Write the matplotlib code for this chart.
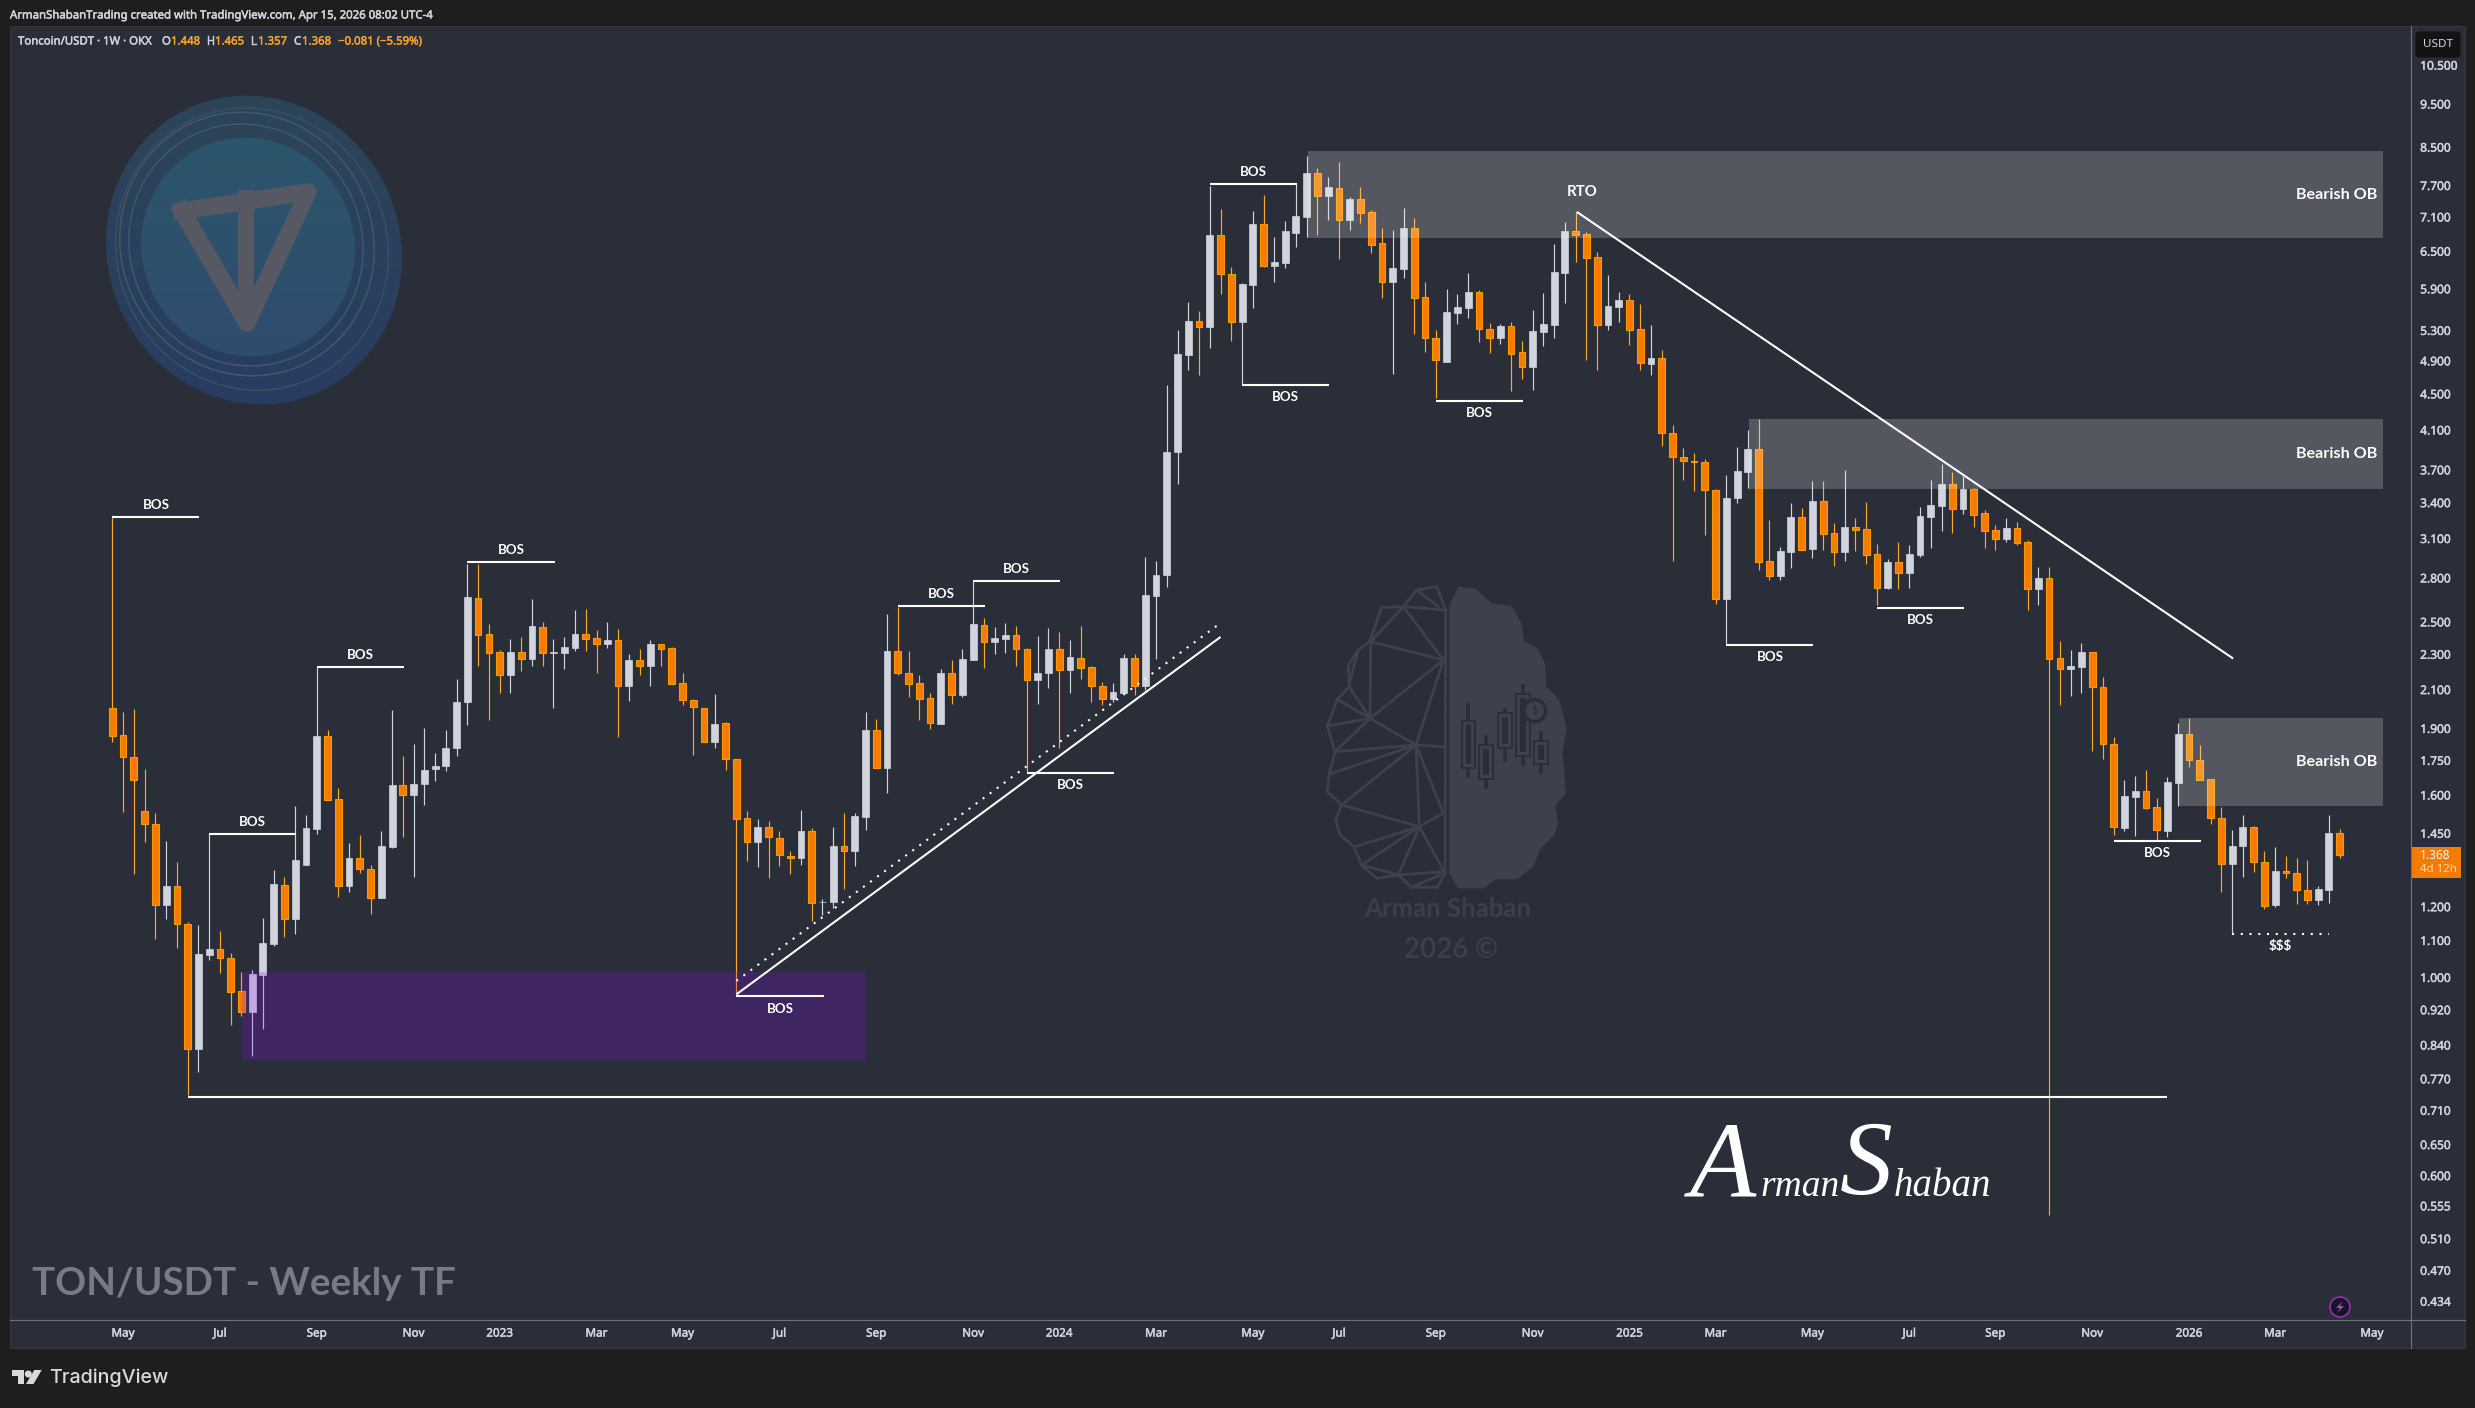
import matplotlib
matplotlib.use("Agg")
import matplotlib.pyplot as plt
import matplotlib.patheffects as pe
import numpy as np
from matplotlib.patches import Rectangle, Ellipse, Polygon, Circle, FancyBboxPatch

# ---------- weekly candles ----------
directions = ("DDDDDUDDUU" "DDDUUUDUUU" "DDUDDUUDUU" "UUUUDDDUDU" "DUUUDDUDUD" "UDDDDDUDDD" "UDDDUDUUDU"
              "UDUDDDDUDU" "UDUUDDUUDU" "DDDUUDUUUU" "UDUDDUUDUU" "UUDUDUDDDU" "UDDDUUUDDU" "DDUUUUDDDU"
              "UDDUDDDDDD" "UUUDDUUDUD" "DUDDDUDUUU" "UDUDDDUDDU" "DDUUDDDUUD" "DUUDDDDUUD" "DUDDDUUD")

highs = [3.273,1.981,1.996,1.710,1.526,1.421,1.344,1.151,1.142,1.450,
         1.127,1.063,1.013,1.018,1.164,1.316,1.295,1.555,1.518,2.223,
         1.891,1.628,1.414,1.442,1.333,1.455,1.992,1.768,1.823,1.899,
         1.779,1.891,2.155,2.898,2.898,2.483,2.324,2.388,2.401,2.648,
         2.496,2.388,2.401,2.576,2.581,2.447,2.496,2.452,2.297,2.326,
         2.383,2.361,2.339,2.189,2.047,2.002,2.075,1.930,1.754,1.534,
         1.503,1.496,1.455,1.385,1.539,1.468,1.223,1.473,1.526,1.526,
         1.981,1.944,2.549,2.598,2.317,2.178,2.079,2.212,2.264,2.329,
         2.776,2.522,2.465,2.491,2.470,2.334,2.409,2.457,2.434,2.383,
         2.470,2.226,2.139,2.135,2.297,2.300,2.950,2.923,4.600,5.301,
         5.696,5.566,7.683,7.236,6.234,5.981,7.198,7.500,6.733,7.015,
         7.730,8.304,8.048,7.864,8.168,7.464,7.656,7.217,6.890,6.856,
         7.254,7.070,5.997,5.301,5.889,5.815,6.138,5.875,5.396,5.382,
         5.409,5.153,5.580,5.829,6.613,6.997,7.186,6.820,6.477,6.107,
         5.845,5.815,5.667,5.368,5.034,4.150,3.912,3.862,3.803,3.521,
         3.650,3.918,4.097,4.213,3.247,3.028,3.392,3.348,3.589,3.589,
         3.222,3.692,3.264,3.401,3.052,2.937,3.068,3.044,3.357,3.598,
         3.750,3.673,3.636,3.525,3.331,3.205,3.264,3.230,3.084,2.877,
         2.877,2.378,2.323,2.365,2.309,2.167,1.857,1.662,1.680,1.706,
         1.587,1.674,1.925,1.950,1.819,1.666,1.551,1.462,1.519,1.477,
         1.385,1.399,1.367,1.360,1.353,1.265,1.519,1.465]

body_tops = [1.998,1.865,1.761,1.533,1.483,1.265,1.264,1.146,1.060,1.075,
             1.075,1.051,0.965,1.007,1.090,1.269,1.268,1.351,1.468,1.862,
             1.860,1.580,1.360,1.359,1.322,1.400,1.641,1.640,1.644,1.706,
             1.723,1.804,2.032,2.661,2.659,2.419,2.309,2.312,2.309,2.470,
             2.467,2.312,2.341,2.421,2.419,2.393,2.386,2.386,2.264,2.262,
             2.356,2.356,2.332,2.132,2.044,1.998,1.920,1.924,1.752,1.506,
             1.472,1.472,1.430,1.367,1.456,1.456,1.214,1.400,1.401,1.514,
             1.891,1.889,2.317,2.314,2.187,2.132,2.051,2.189,2.187,2.269,
             2.483,2.480,2.396,2.414,2.411,2.326,2.187,2.329,2.326,2.280,
             2.278,2.221,2.114,2.085,2.276,2.273,2.676,2.815,3.872,4.983,
             5.423,5.419,6.762,6.762,6.117,5.966,6.961,6.955,6.314,6.838,
             7.100,7.939,7.932,7.656,7.650,7.425,7.419,7.173,6.624,6.218,
             6.890,6.884,5.765,5.189,5.551,5.623,5.839,5.839,5.310,5.354,
             5.349,5.004,5.287,5.382,6.154,6.838,6.832,6.780,6.389,5.633,
             5.726,5.721,5.310,4.932,4.927,4.063,3.819,3.780,3.770,3.509,
             3.440,3.682,3.897,3.894,2.919,2.997,3.272,3.269,3.409,3.406,
             3.137,3.188,3.186,3.169,2.972,2.914,2.912,2.975,3.281,3.375,
             3.562,3.559,3.516,3.513,3.303,3.161,3.180,3.178,3.065,2.796,
             2.793,2.274,2.230,2.311,2.309,2.110,1.822,1.596,1.616,1.615,
             1.549,1.654,1.872,1.870,1.749,1.665,1.506,1.401,1.472,1.472,
             1.345,1.314,1.314,1.308,1.251,1.254,1.449,1.448]

body_bottoms = [1.863,1.761,1.660,1.483,1.203,1.205,1.146,0.831,0.831,1.059,
                1.050,0.962,0.914,0.914,1.006,1.089,1.161,1.161,1.334,1.465,
                1.576,1.264,1.264,1.322,1.224,1.224,1.396,1.600,1.600,1.643,
                1.708,1.721,1.802,2.030,2.416,2.307,2.180,2.180,2.271,2.271,
                2.302,2.307,2.307,2.336,2.391,2.356,2.356,2.119,2.119,2.226,
                2.226,2.326,2.130,2.044,2.004,1.834,1.834,1.752,1.504,1.415,
                1.415,1.433,1.369,1.358,1.358,1.209,1.212,1.213,1.384,1.384,
                1.512,1.715,1.715,2.187,2.126,2.049,1.922,1.920,2.066,2.068,
                2.264,2.373,2.371,2.388,2.326,2.148,2.148,2.187,2.203,2.203,
                2.219,2.114,2.049,2.047,2.079,2.119,2.119,2.670,2.817,3.866,
                4.974,5.345,5.345,6.128,5.414,5.414,5.956,6.255,6.255,6.298,
                6.809,7.088,7.490,7.490,7.039,7.039,7.167,6.601,6.002,6.002,
                6.202,5.760,5.184,4.898,4.882,5.537,5.613,5.310,5.184,5.193,
                4.987,4.811,4.811,5.274,5.368,6.138,6.768,6.384,5.373,5.368,
                5.623,5.305,4.861,4.857,4.060,3.816,3.777,3.767,3.506,2.648,
                2.646,3.436,3.673,2.917,2.813,2.813,2.992,3.008,3.013,3.134,
                2.992,2.992,3.167,2.970,2.728,2.725,2.835,2.833,2.967,3.272,
                3.366,3.343,3.340,3.292,3.159,3.094,3.092,3.060,2.721,2.718,
                2.272,2.209,2.209,2.224,2.109,1.825,1.470,1.469,1.591,1.544,
                1.459,1.458,1.649,1.747,1.663,1.505,1.337,1.337,1.400,1.345,
                1.200,1.203,1.306,1.251,1.218,1.218,1.250,1.368]

lows = [1.834,1.528,1.303,1.415,1.103,1.162,1.077,0.737,0.783,1.045,
        1.011,0.884,0.904,0.815,0.875,1.083,1.109,1.117,1.334,1.444,
        1.576,1.228,1.245,1.308,1.175,1.224,1.393,1.435,1.293,1.556,
        1.655,1.699,1.765,1.912,2.231,1.938,2.077,2.081,2.198,2.226,
        2.231,2.002,2.210,2.314,2.314,2.187,2.336,1.854,2.034,2.175,
        2.114,2.231,2.126,2.013,1.770,1.834,1.802,1.703,0.956,1.348,
        1.327,1.289,1.331,1.303,1.334,1.154,1.174,1.194,1.255,1.331,
        1.462,1.712,1.607,2.180,2.055,1.938,1.897,1.920,2.019,2.055,
        2.264,2.219,2.300,2.304,2.231,1.693,2.019,2.105,1.802,2.081,
        2.157,2.030,2.013,2.032,2.073,2.066,2.094,2.271,2.731,3.560,
        4.774,4.720,5.060,5.819,5.144,4.600,5.613,6.234,5.997,6.218,
        6.561,6.727,6.768,7.033,6.367,6.856,6.979,6.466,5.755,4.733,
        6.059,5.247,5.008,4.450,4.882,5.382,5.465,5.140,4.995,5.113,
        4.522,4.672,4.542,5.087,5.193,5.682,6.314,4.906,4.782,5.301,
        5.409,5.100,4.782,4.720,3.926,2.920,3.603,3.503,3.127,2.612,
        2.357,3.395,3.525,2.855,2.782,2.782,2.869,3.008,2.944,3.005,
        2.884,2.922,2.997,2.899,2.609,2.718,2.718,2.725,2.952,3.020,
        3.156,3.140,3.297,3.188,3.020,3.005,3.068,3.044,2.575,2.609,
        0.541,2.017,2.064,2.080,1.791,1.755,1.443,1.458,1.439,1.540,
        1.425,1.436,1.555,1.719,1.663,1.484,1.246,1.118,1.293,1.310,
        1.190,1.197,1.290,1.206,1.206,1.203,1.211,1.357]

# ---------- axis labels ----------
price_ticks = [10.5,9.5,8.5,7.7,7.1,6.5,5.9,5.3,4.9,4.5,4.1,3.7,3.4,3.1,2.8,2.5,2.3,2.1,1.9,1.75,1.6,1.45,
               1.2,1.1,1.0,0.92,0.84,0.77,0.71,0.65,0.6,0.555,0.51,0.47,0.434]
month_ticks = [1,10,19,28,36,45,53,62,71,80,88,97,106,114,123,132,141,149,158,167,175,184,193,201,210]
month_labels = ["May","Jul","Sep","Nov","2023","Mar","May","Jul","Sep","Nov","2024","Mar","May","Jul","Sep",
                "Nov","2025","Mar","May","Jul","Sep","Nov","2026","Mar","May"]

# ---------- analyst drawings (candle index, price) ----------
bos_start = [0,9,19,33,58,73,80,85,102,105,123,150,164,186]
bos_price = [3.273,1.445,2.223,2.915,0.951,2.602,2.775,1.692,7.722,4.596,4.410,2.352,2.587,1.420]
bos_above = [1,1,1,1,0,1,1,0,1,0,0,0,0,0]
ob_start = [111.1,152.1,192.1]
ob_top = [8.40,4.21,1.949]
ob_bottom = [6.72,3.518,1.554]
ob_right = 211.0
zone_x = [12.1,70.0]
zone_y = [0.808,1.013]
base_x = [7,191]
base_price = 0.734
up_solid_x, up_solid_y = [58,103.0], [0.956,2.402]
up_dotted_x, up_dotted_y = [58,103.0], [0.990,2.49]
down_x, down_y = [136.1,197.1], [7.185,2.272]
liq_x, liq_price = [197,206], 1.117

W, H = 2475, 1408
BG, OUT = "#2a2e39", "#1e1e1e"
UP, DOWN, DOWN_EDGE, DOWN_WICK = "#d1d4dc", "#f57c00", "#ff9800", "#ffa726"
TEXT = "#d1d4dc"
FONT = ["Noto Sans", "DejaVu Sans"]
ANNO = ["Lato", "DejaVu Sans"]
plt.rcParams["font.family"] = FONT

fig = plt.figure(figsize=(W/100, H/100), dpi=100, facecolor=OUT)
fig.add_artist(Rectangle((10/W, 1-1348/H), 2455/W, 1322/H, transform=fig.transFigure, fc=BG, ec="#34373f", lw=0.8, zorder=0))

def overlay(z):
    a = fig.add_axes([0, 0, 1, 1], zorder=z)
    a.set_xlim(0, W); a.set_ylim(H, 0); a.axis("off"); a.patch.set_alpha(0)
    return a

under = overlay(1)
top = overlay(5)

# ---------- main price chart ----------
L, R, T, B = 10, 2411, 26, 1320
ax = fig.add_axes([L/W, 1-B/H, (R-L)/W, (B-T)/H], zorder=3)
ax.patch.set_alpha(0)
ax.set_yscale("log")
ax.set_ylim(0.413, 11.60)
ax.set_xlim(-9.507, 213.63)

idx = np.arange(len(highs))
is_up = np.array([c == "U" for c in directions])
highs_a, lows_a = np.array(highs), np.array(lows)
tops_a, bots_a = np.array(body_tops), np.array(body_bottoms)
ax.vlines(idx[is_up], lows_a[is_up], highs_a[is_up], color=UP, lw=0.85, zorder=2)
ax.vlines(idx[~is_up], lows_a[~is_up], highs_a[~is_up], color=DOWN_WICK, lw=0.85, zorder=2)
ax.bar(idx[is_up], tops_a[is_up]-bots_a[is_up], bottom=bots_a[is_up], width=0.64, color=UP, edgecolor=UP, lw=0.5, zorder=3)
ax.bar(idx[~is_up], tops_a[~is_up]-bots_a[~is_up], bottom=bots_a[~is_up], width=0.62, color=DOWN, edgecolor=DOWN_EDGE, lw=0.8, zorder=3)

thick = [pe.withStroke(linewidth=0.35, foreground=TEXT)]
ax.set_yticks(price_ticks, [f"{p:.3f}" for p in price_ticks])
ax.yaxis.set_minor_locator(matplotlib.ticker.NullLocator())
ax.yaxis.tick_right()
ax.tick_params(axis="y", length=0, pad=6.6, labelsize=8.6, labelcolor=TEXT)
ax.set_xticks(month_ticks, month_labels)
ax.tick_params(axis="x", length=0, pad=6.2, labelsize=8.4, labelcolor=TEXT)
for lab in ax.get_xticklabels() + ax.get_yticklabels():
    lab.set_path_effects(thick)
for s in ax.spines.values():
    s.set_visible(False)

# zones over the candles
for s, t, b in zip(ob_start, ob_top, ob_bottom):
    ax.add_patch(Rectangle((s, b), ob_right-s, t-b, fc="#ffffff", alpha=0.2, lw=0, zorder=4))
    ax.text(210.5, np.sqrt(t*b), "Bearish OB", ha="right", va="center", color="white", fontsize=11.6, fontweight="bold", family=ANNO, zorder=6)
ax.add_patch(Rectangle((zone_x[0], zone_y[0]), zone_x[1]-zone_x[0], zone_y[1]-zone_y[0], fc="#8e06fc", alpha=0.21, lw=0, zorder=4))

# lines
line = dict(color="white", solid_capstyle="butt", zorder=5)
for s, p, a in zip(bos_start, bos_price, bos_above):
    ax.plot([s, s+8.1], [p, p], lw=1.5, **line)
    ax.annotate("BOS", (s+4.05, p), xytext=(0, 8.8 if a else -8.8), textcoords="offset points",
                ha="center", va="center", color="white", fontsize=9.6, fontweight="bold", family=ANNO, zorder=6)
ax.plot(base_x, [base_price, base_price], lw=1.5, **line)
ax.plot(up_solid_x, up_solid_y, lw=1.5, **line)
ax.plot(up_dotted_x, up_dotted_y, lw=1.5, color="white", ls=(0, (1, 3.2)), zorder=5)
ax.plot(down_x, down_y, lw=1.5, **line)
ax.plot(liq_x, [liq_price, liq_price], lw=1.5, color="white", ls=(0, (1, 3.2)), zorder=5)
ax.annotate("$$$", (sum(liq_x)/2, liq_price), xytext=(0, -8.8), textcoords="offset points", ha="center", va="center",
            color="white", fontsize=9.6, fontweight="bold", family=ANNO, parse_math=False, zorder=6)
ax.annotate("RTO", (136.6, down_y[0]), xytext=(0, 14.5), textcoords="offset points", ha="center", va="center",
            color="white", fontsize=10.8, fontweight="bold", family=ANNO, zorder=6)

# ---------- coin logo ----------
grad = np.linspace(0, 1, 256)[:, None]
cmap = matplotlib.colors.LinearSegmentedColormap.from_list("c", ["#2a566b", "#314c6e"])
cmap2 = matplotlib.colors.LinearSegmentedColormap.from_list("c", ["#2d4557", "#283c62"])
outer = Ellipse((254, 250), 292, 312, angle=-25, fc="#2c4458", ec="none")
under.add_patch(outer)
im = under.imshow(grad, extent=(100, 410, 410, 90), cmap=cmap2, aspect="auto", zorder=1.2)
im.set_clip_path(outer)
for (cx, cy, w, h, c) in [(252, 249, 270, 285, "#3a4f63"), (247, 244, 252, 266, "#46566a"), (246, 245, 232, 244, "#3a5a70")]:
    under.add_patch(Ellipse((cx, cy), w, h, angle=-25, fc="none", ec=c, lw=1.1, zorder=1.3))
disc = Ellipse((248, 247), 212, 220, angle=-25, fc="#2e5068", ec="none", zorder=1.4)
under.add_patch(disc)
im2 = under.imshow(grad, extent=(130, 365, 360, 130), cmap=cmap, aspect="auto", zorder=1.5)
im2.set_clip_path(disc)
under.plot([182, 308, 247, 182], [211, 192, 323, 211], color="#565963", lw=12.5, solid_joinstyle="round", zorder=1.7)
under.plot([245.5, 245.5], [198, 297], color="#565963", lw=11.5, zorder=1.7)
under.set_xlim(0, W); under.set_ylim(H, 0)

# ---------- brain watermark ----------
BR = "#3e414d"
def bp(x, y):
    return 1280 + x/3, 560 + y/3
right_half = [(535,80),(585,85),(635,130),(695,138),(725,190),(732,243),(772,265),(795,308),(798,378),(838,420),(860,505),
              (848,575),(857,700),(826,738),(834,790),(823,825),(782,865),(760,920),(712,958),(648,958),(610,985),(535,985),
              (508,940),(508,135)]
under.add_patch(Polygon([bp(*p) for p in right_half], fc=BR, ec="none", zorder=2))
outline = [(497,150),(470,80),(410,90),(370,140),(305,143),(268,245),(235,270),(205,315),(208,380),(172,418),(142,498),(165,575),
           (148,640),(142,695),(185,735),(167,780),(180,825),(222,860),(245,915),(290,955),(355,945),(395,982),(472,982),(495,940),(497,150)]
xs, ys = zip(*[bp(*p) for p in outline])
under.plot(xs, ys, color=BR, lw=2.0, zorder=2)
segs = [((370,140),(497,150)),((410,90),(475,140)),((370,140),(272,245)),((370,140),(490,300)),((272,245),(490,300)),
        ((272,245),(270,475)),((208,380),(270,475)),((172,418),(270,475)),((142,498),(270,475)),((165,575),(270,475)),
        ((270,475),(490,300)),((270,475),(408,555)),((408,555),(490,300)),((165,575),(408,555)),((155,640),(408,555)),
        ((185,735),(408,555)),((408,555),(490,560)),((408,555),(418,800)),((408,555),(490,760)),((185,735),(418,800)),
        ((225,860),(418,800)),((245,915),(418,800)),((355,945),(418,800)),((418,800),(490,760)),((418,800),(490,930)),
        ((245,915),(355,945)),((355,945),(490,935)),((395,982),(480,945)),((305,143),(275,230)),((235,270),(208,370))]
for a, b in segs:
    pa, pb = bp(*a), bp(*b)
    under.plot([pa[0], pb[0]], [pa[1], pb[1]], color=BR, lw=2.0, zorder=2)
for (x0, y0, x1, y1, wt, wb) in [(545,483,585,625,435,648),(598,555,640,657,532,680),(653,460,695,565,450,600),
                                 (707,402,749,588,378,612),(762,543,804,612,520,635)]:
    xc = (x0+x1)/2
    p1, p2 = bp(xc, wt), bp(xc, wb)
    under.plot([p1[0], p2[0]], [p1[1], p2[1]], color=BG, lw=2.6, zorder=2.1)
    q0, q1 = bp(x0, y0), bp(x1, y1)
    under.add_patch(Rectangle(q0, q1[0]-q0[0], q1[1]-q0[1], fc=BR, ec=BG, lw=1.3, zorder=2.2))
    m0, m1 = bp(x0+12, y0+12), bp(x1-12, y1-12)
    under.add_patch(Rectangle(m0, m1[0]-m0[0], m1[1]-m0[1], fc=BG, ec="none", zorder=2.3))
c = bp(764, 452)
under.add_patch(Circle(c, 11, fc=BR, ec=BG, lw=2.6, zorder=2.4))
under.text(c[0], c[1], "$", ha="center", va="center", color=BG, fontsize=9, parse_math=False, zorder=2.5)
under.text(1448, 909, "Arman Shaban", ha="center", va="center", color="#3c3f4b", fontsize=18.5, fontweight="bold", family=ANNO, zorder=2)
under.text(1451, 950, "2026 ©", ha="center", va="center", color="#3c3f4b", fontsize=20, fontweight="bold", family=ANNO, zorder=2)

# ---------- signature ----------
sig = ["Liberation Serif", "DejaVu Serif"]
sk = dict(color="white", style="italic", family=sig, ha="left", va="baseline", zorder=4)
under.text(1690, 1197, "A", fontsize=78, **sk)
under.text(1760, 1196, "rman", fontsize=27, **sk)
under.text(1840, 1194, "S", fontsize=76, **sk)
under.text(1894, 1196, "haban", fontsize=28, **sk)

# ---------- chart texts ----------
top.text(32, 1284, "TON/USDT - Weekly TF", color="#787b86", fontsize=27.7, fontweight="bold", va="center", ha="left", family=ANNO)
top.text(10, 16, "ArmanShabanTrading created with TradingView.com, Apr 15, 2026 08:02 UTC-4", color=TEXT, fontsize=8.2, va="center", path_effects=thick)
ORG = "#f7a325"
for x, s, col in [(18,"Toncoin/USDT · 1W · OKX",TEXT),(162,"O",TEXT),(171,"1.448",ORG),(207,"H",TEXT),(215,"1.465",ORG),
                  (251,"L",TEXT),(258,"1.357",ORG),(294,"C",TEXT),(302,"1.368",ORG),(338,"−0.081 (−5.59%)",ORG)]:
    top.text(x, 42, s, color=col, fontsize=8.2, va="center", path_effects=[pe.withStroke(linewidth=0.3, foreground=col)])

# frame lines
top.plot([R, R], [T, 1348], color="#6f727c", lw=0.8)
top.plot([L, 2465], [B, B], color="#6f727c", lw=0.8)

# price tag and currency box
top.add_patch(Rectangle((2412, 847), 49, 31, fc="#f57c00", ec="none"))
top.text(2420, 855.5, "1.368", color="#f5f5f5", fontsize=8.6, va="center")
top.text(2420, 870, "4d 12h", color="#fcd9ae", fontsize=8.2, va="center")
top.add_patch(FancyBboxPatch((2417, 33), 42, 23, boxstyle="round,pad=2,rounding_size=4", fc="#131313", ec="#2e2e2e", lw=0.6))
top.text(2438, 44.5, "USDT", color=TEXT, fontsize=8.4, ha="center", va="center")

# lightning badge
top.add_patch(Circle((2340, 1307), 10, fc="#131722", ec="#9c27b0", lw=1.3))
top.add_patch(Polygon([(2343,1301),(2336,1308),(2340,1308),(2337,1313),(2344,1306),(2340,1306)], fc="#ab47bc", ec="none"))

# TradingView footer
LOGO = "#d9d9d9"
top.add_patch(Polygon([(12,1370),(24,1370),(24,1384),(18,1384),(18,1376),(12,1376)], fc=LOGO, ec="none"))
top.add_patch(Circle((28.3,1374), 3.5, fc=LOGO, ec="none"))
top.add_patch(Polygon([(41.7,1370),(33.5,1384),(26,1384),(34.3,1370)], fc=LOGO, ec="none"))
top.text(49, 1378, "TradingView", color=LOGO, fontsize=14.2, va="center", fontfamily=["Inter", "DejaVu Sans"], fontweight="medium")

fig.savefig("out.png", dpi=100, facecolor=OUT)
